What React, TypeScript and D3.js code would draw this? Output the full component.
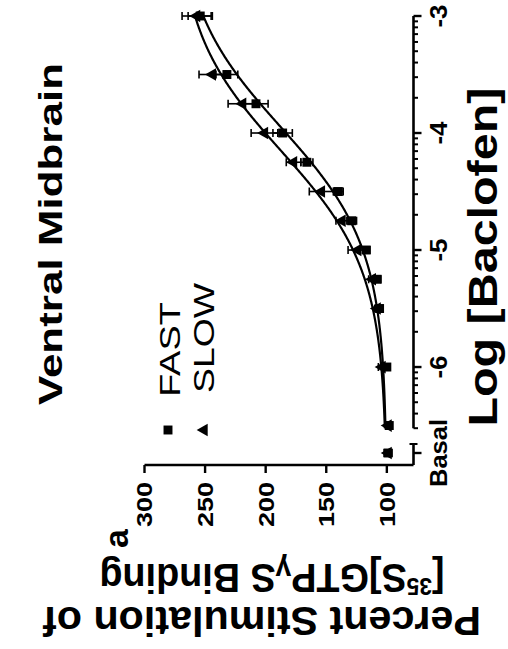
import React from "react";
import * as d3 from "d3";

// Concentrations (log M) and responses, % of basal
const logConc = [-6.5, -6, -5.5, -5.25, -5, -4.75, -4.5, -4.25, -4, -3.75, -3.5, -3];
const fastMean = [98, 100, 106, 108, 117, 129, 140, 166, 186, 208, 232, 254];
const fastSem = [2, 2, 2, 3, 3, 4, 4, 5, 8, 10, 9, 10];
const slowMean = [99, 104, 108, 112, 124, 137, 154, 177, 201, 219, 244, 257];
const slowSem = [2, 3, 2, 3, 8, 5, 10, 6, 11, 12, 11, 12];

const basalFast = 99;
const basalFastSem = 3;
const basalSlow = 99;
const basalSlowSem = 3;

// Sigmoidal dose-response fit parameters: [bottom, top, logEC50, hill]
const fastFit = [100, 275, -3.95, 0.85];
const slowFit = [100, 275, -4.15, 0.85];

const yTicks = [100, 150, 200, 250, 300];
const xTicks = [-6, -5, -4, -3];
const xTickLabels = ["-6", "-5", "-4", "-3"];

const FONT = "'Liberation Sans', Arial, Helvetica, sans-serif";

// The panel is laid out in a landscape frame (W0 wide) and turned a quarter turn.
const W0 = 649;

const sigmoid = (p: number[], lx: number) =>
  p[0] + (p[1] - p[0]) / (1 + Math.pow(10, (p[2] - lx) * p[3]));

export default function App() {
  const xMin = Math.log10(3e-7);
  const x = d3.scaleLinear().domain([xMin, -3]).range([220.8, 633]);
  const y = d3.scaleLinear().domain([78, 300]).range([413.5, 144.5]);

  const axisY = y(78);
  const yAxisX = 184;
  const basalX = 196;
  const basalSegStart = yAxisX;
  const basalSegEnd = 205;

  // minor log ticks
  const minor: number[] = [];
  for (let dec = -7; dec <= -4; dec++) {
    for (let m = 2; m <= 9; m++) {
      const v = dec + Math.log10(m);
      if (v >= xMin - 1e-6 && v <= -3) minor.push(v);
    }
  }

  const samples = d3.range(xMin, -3, 0.01).concat([-3]);
  const line = d3.line<number>().x((d) => x(d));
  const fastPath = line.y((d) => y(sigmoid(fastFit, d)))(samples) || "";
  const slowPath = line.y((d) => y(sigmoid(slowFit, d)))(samples) || "";

  const sq = d3.symbol().type(d3.symbolSquare).size(80)() || "";
  const tri = d3.symbol().type(d3.symbolTriangle).size(70)() || "";

  const errBar = (cx: number, m: number, s: number, key: string) => (
    <g key={key} stroke="#000" strokeWidth={1.6}>
      <line x1={cx} x2={cx} y1={y(m - s)} y2={y(m + s)} />
      <line x1={cx - 4} x2={cx + 4} y1={y(m + s)} y2={y(m + s)} />
      <line x1={cx - 4} x2={cx + 4} y1={y(m - s)} y2={y(m - s)} />
    </g>
  );

  return (
    <svg
      width={508}
      height={649}
      style={{ position: "absolute", left: 0, top: 0, background: "#fff" }}
    >
      <rect width={508} height={649} fill="#fff" />
      <g transform={`translate(0,${W0}) rotate(-90)`} fontFamily={FONT}>
        {/* panel letter */}
        <text x={101} y={128} fontSize={34} fontWeight="bold">
          a
        </text>

        {/* title */}
        <text
          x={244}
          y={62}
          fontSize={34}
          fontWeight="bold"
          textLength={342}
          lengthAdjust="spacingAndGlyphs"
        >
          Ventral Midbrain
        </text>

        {/* legend */}
        <path d={sq} transform={`translate(219,168)`} fill="#000" />
        <text x={252} y={180} fontSize={30} textLength={95} lengthAdjust="spacingAndGlyphs">
          FAST
        </text>
        <path d={tri} transform={`translate(219,204)`} fill="#000" />
        <text x={256} y={214} fontSize={30} textLength={110} lengthAdjust="spacingAndGlyphs">
          SLOW
        </text>

        {/* y axis */}
        <line x1={yAxisX} x2={yAxisX} y1={y(300)} y2={axisY} stroke="#000" strokeWidth={2.6} />
        {yTicks.map((t) => (
          <g key={t}>
            <line x1={yAxisX - 8} x2={yAxisX} y1={y(t)} y2={y(t)} stroke="#000" strokeWidth={2.4} />
            <text
              x={167}
              y={y(t)}
              dy="0.36em"
              textAnchor="end"
              fontSize={22}
              fontWeight="bold"
              textLength={45}
              lengthAdjust="spacingAndGlyphs"
            >
              {t}
            </text>
          </g>
        ))}

        {/* x axis: basal segment */}
        <line x1={basalSegStart} x2={basalSegEnd} y1={axisY} y2={axisY} stroke="#000" strokeWidth={2.6} />
        <line x1={basalX} x2={basalX} y1={axisY} y2={axisY + 8} stroke="#000" strokeWidth={2.4} />
        <line x1={basalSegEnd} x2={basalSegEnd} y1={axisY - 4} y2={axisY + 4} stroke="#000" strokeWidth={2} />
        <text
          x={basalX}
          y={447}
          textAnchor="middle"
          fontSize={23}
          fontWeight="bold"
          textLength={68}
          lengthAdjust="spacingAndGlyphs"
        >
          Basal
        </text>

        {/* x axis: log concentration */}
        <line x1={x(xMin)} x2={x(-3)} y1={axisY} y2={axisY} stroke="#000" strokeWidth={2.6} />
        {minor.map((t, i) => (
          <line key={i} x1={x(t)} x2={x(t)} y1={axisY} y2={axisY + 4.5} stroke="#000" strokeWidth={2} />
        ))}
        {xTicks.map((t, i) => (
          <g key={t}>
            <line x1={x(t)} x2={x(t)} y1={axisY} y2={axisY + 8} stroke="#000" strokeWidth={2.4} />
            <text
              x={x(t)}
              y={447}
              textAnchor="middle"
              fontSize={23}
              fontWeight="bold"
              textLength={23}
              lengthAdjust="spacingAndGlyphs"
            >
              {xTickLabels[i]}
            </text>
          </g>
        ))}

        {/* axis titles */}
        <text
          x={(x(xMin) + x(-3)) / 2 - 35}
          y={497}
          textAnchor="middle"
          fontSize={40}
          fontWeight="bold"
          textLength={339}
          lengthAdjust="spacingAndGlyphs"
        >
          Log [Baclofen]
        </text>
        <text
          transform={`translate(42,262) rotate(-90)`}
          textAnchor="middle"
          fontSize={40}
          fontWeight="bold"
          textLength={438}
          lengthAdjust="spacingAndGlyphs"
        >
          Percent Stimulation of
        </text>
        <text
          transform={`translate(85,272) rotate(-90)`}
          textAnchor="middle"
          fontSize={40}
          fontWeight="bold"
          textLength={345}
          lengthAdjust="spacingAndGlyphs"
        >
          [<tspan fontSize={24} dy={-14}>35</tspan>
          <tspan dy={14}>S]GTP</tspan>
          <tspan fontSize={30} dy={4}>γ</tspan>
          <tspan dy={-4}>S Binding</tspan>
        </text>

        {/* fitted curves */}
        <path d={slowPath} fill="none" stroke="#000" strokeWidth={2.2} />
        <path d={fastPath} fill="none" stroke="#000" strokeWidth={2.2} />

        {/* error bars */}
        {logConc.map((c, i) => errBar(x(c), slowMean[i], slowSem[i], `se${i}`))}
        {logConc.map((c, i) => errBar(x(c), fastMean[i], fastSem[i], `fe${i}`))}
        {errBar(basalX, basalSlow, basalSlowSem, "sb")}
        {errBar(basalX, basalFast, basalFastSem, "fb")}

        {/* markers */}
        {logConc.map((c, i) => (
          <path key={`st${i}`} d={tri} transform={`translate(${x(c)},${y(slowMean[i])})`} fill="#000" />
        ))}
        <path d={tri} transform={`translate(${basalX},${y(basalSlow)})`} fill="#000" />
        {logConc.map((c, i) => (
          <path key={`fs${i}`} d={sq} transform={`translate(${x(c)},${y(fastMean[i])})`} fill="#000" />
        ))}
        <path d={sq} transform={`translate(${basalX},${y(basalFast)})`} fill="#000" />
      </g>
    </svg>
  );
}
